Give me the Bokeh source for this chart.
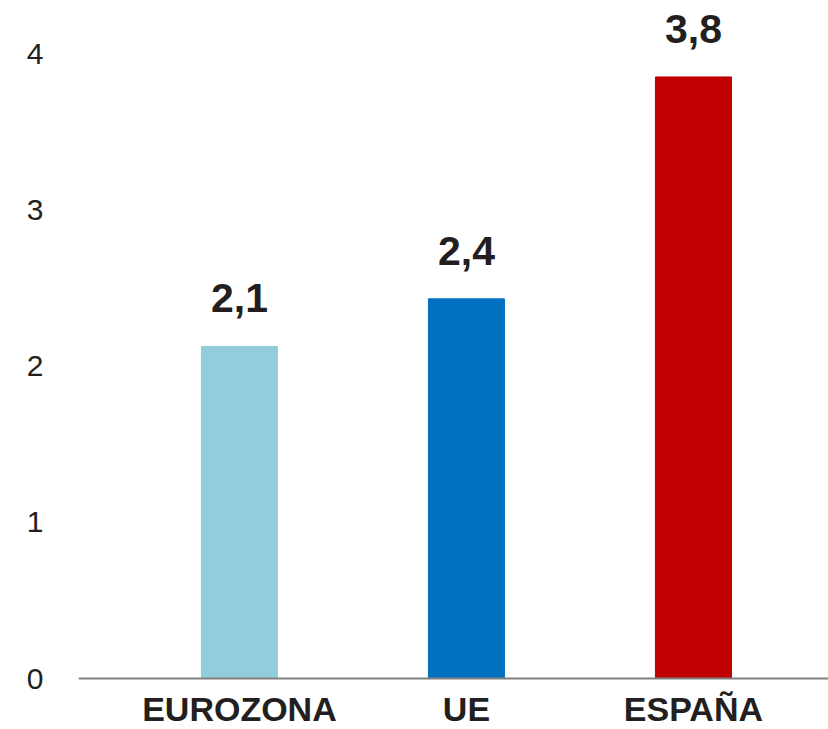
from bokeh.plotting import figure
from bokeh.models import ColumnDataSource, Range1d, FixedTicker, Span
from bokeh.embed import file_html
from bokeh.resources import INLINE
from bokeh.core.properties import value

categories = ["EUROZONA", "UE", "ESPAÑA"]
values = [2.125, 2.43, 3.85]
value_labels = ["2,1", "2,4", "3,8"]
colors = ["#92CDDC", "#0070C0", "#C00000"]
y_ticks = [0, 1, 2, 3, 4]

xs = list(range(len(categories)))
src = ColumnDataSource(dict(x=xs, top=values, lab=value_labels, color=colors,
                            cat=categories, zero=[0] * len(categories)))

p = figure(width=828, height=729, output_backend="svg", toolbar_location=None,
           x_range=Range1d(-0.709, 2.595), y_range=Range1d(-0.3264, 4.3392),
           min_border_left=78, min_border_right=0, min_border_top=0, min_border_bottom=0)
p.outline_line_color = None
p.grid.grid_line_color = None
p.background_fill_color = "white"

p.vbar(x="x", top="top", width=0.335, bottom=0, color="color", source=src)
p.add_layout(Span(location=0, dimension="width", line_color="#808080", line_width=2))

p.text(x="x", y="top", text="lab", source=src, text_align="center",
       text_baseline="alphabetic", y_offset=-48, text_font=value("Liberation Sans"),
       text_font_style="bold", text_font_size="41px", text_color="#231F20")
p.text(x="x", y="zero", text="cat", source=src, text_align="center",
       text_baseline="alphabetic", y_offset=30, text_font=value("Liberation Sans"),
       text_font_style="bold", text_font_size="34px", text_color="#231F20")

p.xaxis.visible = False

ya = p.yaxis[0]
ya.ticker = FixedTicker(ticks=y_ticks)
ya.axis_line_color = None
ya.major_tick_line_color = None
ya.minor_tick_line_color = None
ya.major_tick_out = 0
ya.minor_tick_out = 0
ya.major_label_text_font = "Liberation Sans"
ya.major_label_text_font_size = "30px"
ya.major_label_text_color = "#231F20"
ya.major_label_standoff = 35

open("out.html", "w").write(file_html(p, INLINE))
